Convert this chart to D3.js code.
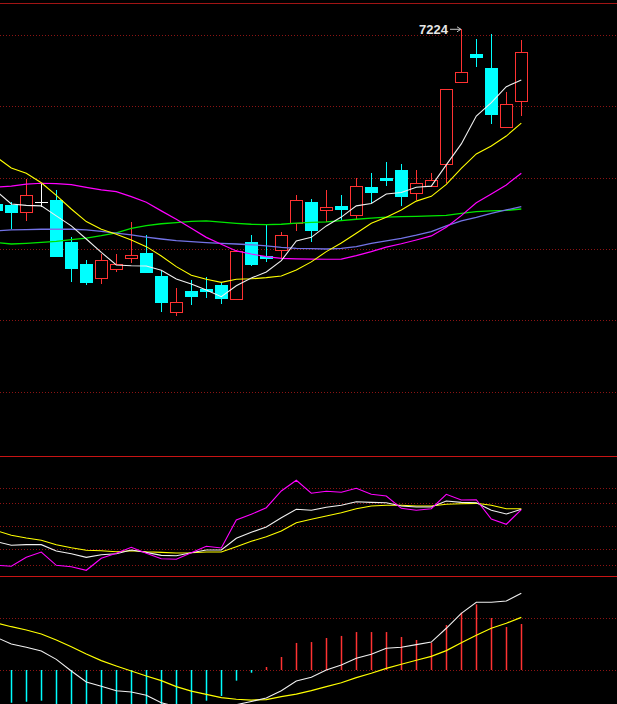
<!DOCTYPE html>
<html><head><meta charset="utf-8">
<script src="https://cdn.jsdelivr.net/npm/d3@7"></script>
<style>html,body{margin:0;padding:0;background:#000;overflow:hidden}svg{display:block}</style>
</head><body><svg id="c" width="617" height="704"></svg>
<script>
// ---- data (index -1 .. 34, first bar is partly off-screen) ----
const opens  = [6491,6487,6456,6498,6508,6331,6239,6179,6217,6266,6284,6189,6036,6126,6134,6151,6094,6331,6271,6297,6411,6499,6464,6482,6443,6562,6600,6634,6536,6568,6657,7002,7120,7060,6813,6922];
const closes = [6466,6459,6527,6498,6274,6224,6165,6255,6238,6276,6207,6081,6078,6106,6126,6098,6294,6240,6266,6360,6506,6383,6477,6471,6566,6541,6592,6526,6578,6590,6972,7044,7106,6870,6909,7128];
const highs  = [6499,6499,6596,6580,6550,6352,6256,6282,6281,6415,6360,6210,6138,6172,6185,6161,6298,6361,6406,6373,6529,6511,6550,6529,6599,6620,6666,6657,6634,6620,6974,7224,7183,7203,6961,7179];
const lows   = [6457,6386,6421,6480,6267,6165,6152,6156,6207,6245,6205,6039,6022,6068,6098,6073,6089,6232,6248,6262,6379,6333,6414,6420,6424,6496,6568,6484,6508,6564,6578,7000,7067,6825,6813,6859];
const ma5  = [6545,6491,6485,6483,6441,6399,6344,6288,6235,6232,6231,6213,6176,6155,6130,6102,6148,6180,6206,6253,6336,6351,6399,6436,6483,6493,6533,6539,6561,6566,6655,6743,6860,6916,6983,7011];
const ma10 = [6688,6642,6620,6580,6527,6470,6417,6385,6364,6340,6312,6273,6228,6192,6175,6162,6175,6177,6182,6189,6214,6248,6291,6327,6368,6410,6435,6466,6503,6523,6573,6640,6701,6734,6776,6830];
const ma20 = [6562,6566,6574,6578,6576,6572,6561,6550,6543,6522,6498,6462,6427,6389,6351,6322,6294,6281,6270,6263,6261,6260,6259,6260,6274,6291,6310,6324,6340,6357,6393,6442,6496,6533,6571,6620];
const ma30 = [6378,6382,6383,6385,6385,6385,6382,6376,6369,6361,6352,6344,6337,6333,6329,6326,6323,6320,6315,6309,6305,6304,6302,6305,6312,6326,6336,6347,6360,6375,6399,6420,6435,6452,6466,6480];
const ma60 = [6329,6323,6326,6330,6334,6341,6348,6358,6370,6389,6400,6408,6413,6418,6420,6415,6410,6406,6404,6406,6411,6414,6416,6421,6427,6432,6436,6438,6439,6441,6443,6452,6459,6462,6464,6470];
const kVals = [31,26.1,26.9,26.9,18.6,15.1,10.4,13.8,15.1,19.9,16.9,13.0,12.5,16.4,19.9,19.9,35.2,43.0,49.9,62.1,73.0,71.7,75.6,78.2,82.9,82.1,81.6,77.3,76.0,76.0,83.8,82.1,81.6,71.7,66.9,73.0];
const dVals = [45.3,39.1,35.6,32.6,26.9,22.9,19.6,19.0,17.7,19.0,17.7,16.9,16.0,16.4,17.3,17.3,24.2,31.3,37.3,44.7,55.5,60.0,64.3,68.6,73.8,77.3,78.2,78.2,77.3,77.3,79.5,80.3,80.8,78.2,73.8,73.8];
const jVals = [0,-1.3,10.4,17.3,0,-1.8,-6.5,9.1,15.6,23.5,15.6,8.6,7.8,16.4,24.8,22.6,59.1,66.5,75.1,96.9,110.8,93.9,96.5,95.2,100.4,92.6,90.4,74.3,71.7,73.8,92.6,85.1,85.5,60.4,53.5,72.5];
const difVals = [25.1,20.0,17.5,14.6,8.2,-0.8,-9.2,-12.5,-16.0,-16.9,-19.4,-25.2,-28.1,-30.0,-30.5,-31.3,-26.7,-24.2,-21.5,-15.9,-8.5,-5.6,0,3.8,9.0,12.1,16.7,17.5,19.5,21.5,32.1,43.6,52.1,52.1,53.1,59.0];
const deaVals = [36.2,33.3,30.8,27.7,23.1,17.9,12.3,7.2,3.1,-0.8,-4.6,-8.2,-12.8,-16.2,-18.7,-21.3,-22.5,-23.1,-22.8,-20.5,-18.5,-15.9,-12.8,-9.8,-5.9,-2.5,1.3,4.4,7.5,10.5,14.9,21.0,26.7,32.1,36.0,40.5];
const macdVals = [-22,-25.2,-24.4,-23.6,-29.7,-37.4,-42.6,-38.9,-38.0,-32.3,-29.7,-33.8,-30.5,-27.7,-23.6,-20.0,-8.2,-2.1,2.3,10.0,20.8,21.5,24.6,26.2,29.2,29.2,29.2,25.4,23.1,21.0,34.6,44.1,50.5,40.0,33.1,35.4];
const priceTicks = [7200,6900,6600,6300,6000,5700];
const kdjTicks = [0,20,50,80,100];
const macdTicks = [0,40];

// ---- setup ----
const W = 617, H = 704;
const UP = '#ff3232', DOWN = '#00ffff';
const svg = d3.select('#c');
svg.append('rect').attr('width', W).attr('height', H).attr('fill', '#000');
const idx = d3.range(opens.length);
const x = d3.scaleLinear().domain([0, opens.length - 1]).range([-3.7, 521.3]);
const yP = d3.scaleLinear().domain([5600, 7300]).range([416.33, 11.17]);
const yK = d3.scaleLinear().domain([0, 100]).range([565.3, 488.6]);
const yM = d3.scaleLinear().domain([0, 40]).range([670, 618]);
const px = v => Math.floor(v) + 0.5;

// grid lines
function grid(ticks, scale) {
  svg.append('g').attr('shape-rendering', 'crispEdges').selectAll('line').data(ticks).join('line')
    .attr('x1', 0).attr('x2', W)
    .attr('y1', d => px(scale(d))).attr('y2', d => px(scale(d)))
    .attr('stroke', '#8c1414').attr('stroke-width', 1).attr('stroke-dasharray', '1,2');
}
grid(priceTicks, yP);
grid(kdjTicks, yK);
grid(macdTicks, yM);

// panel separators
[[3.5, '#a01414'], [456.5, '#c81414'], [576.5, '#c81414']].forEach(([yy, c]) => {
  svg.append('line').attr('x1', 0).attr('x2', W).attr('y1', yy).attr('y2', yy)
    .attr('stroke', c).attr('stroke-width', 1);
});

// ---- candles ----
const cg = svg.append('g').attr('shape-rendering', 'crispEdges');
idx.forEach(i => {
  const cx = x(i), o = opens[i], c = closes[i];
  const wx = Math.round(cx) + 0.5;
  const yH = Math.round(yP(highs[i])), yL = Math.round(yP(lows[i]));
  const yO = Math.round(yP(o)), yC = Math.round(yP(c));
  if (o === c) {
    cg.append('line').attr('x1', wx).attr('x2', wx).attr('y1', yH).attr('y2', yL).attr('stroke', '#fff');
    cg.append('line').attr('x1', Math.round(cx - 6)).attr('x2', Math.round(cx - 6) + 13)
      .attr('y1', yC + 0.5).attr('y2', yC + 0.5).attr('stroke', '#fff');
  } else if (c > o) {
    const top = yC, bot = yO;
    cg.append('line').attr('x1', wx).attr('x2', wx).attr('y1', yH).attr('y2', top).attr('stroke', UP);
    cg.append('line').attr('x1', wx).attr('x2', wx).attr('y1', bot).attr('y2', yL).attr('stroke', UP);
    cg.append('rect').attr('x', Math.round(cx - 6) + 0.5).attr('y', top + 0.5)
      .attr('width', 12).attr('height', Math.max(1, bot - top))
      .attr('fill', '#000').attr('stroke', UP);
  } else {
    cg.append('line').attr('x1', wx).attr('x2', wx).attr('y1', yH).attr('y2', yL).attr('stroke', DOWN);
    cg.append('rect').attr('x', Math.round(cx - 6)).attr('y', yO)
      .attr('width', 13).attr('height', Math.max(2, yC - yO + 1)).attr('fill', DOWN);
  }
});

// ---- moving averages ----
function drawLine(vals, scale, color, w) {
  const line = d3.line().x((d, i) => x(i)).y(d => scale(d));
  svg.append('path').datum(vals).attr('d', line)
    .attr('fill', 'none').attr('stroke', color).attr('stroke-width', w || 1);
}
drawLine(ma60, yP, '#00e600', 1.3);
drawLine(ma30, yP, '#7373e6', 1.3);
drawLine(ma20, yP, '#ff00ff', 1.2);
drawLine(ma10, yP, '#ffff00', 1.1);
drawLine(ma5, yP, '#f0f0f0', 1.1);

// max label
const iMax = d3.maxIndex(highs);
const mx = Math.round(x(iMax)), my = yP(highs[iMax]);
svg.append('line').attr('x1', mx - 11).attr('x2', mx - 1).attr('y1', my).attr('y2', my)
  .attr('stroke', '#c8c8c8').attr('stroke-width', 1);
svg.append('path').attr('d', `M${mx - 4},${my - 2.5} L${mx},${my} L${mx - 4},${my + 2.5}`)
  .attr('fill', 'none').attr('stroke', '#c8c8c8').attr('stroke-width', 1);
svg.append('text').attr('x', mx - 13).attr('y', my + 5)
  .attr('text-anchor', 'end').attr('font-family', 'Liberation Sans, Arial, sans-serif')
  .attr('font-size', 13).attr('font-weight', 'bold').attr('fill', '#e6e6e6')
  .text(String(highs[iMax]));

// ---- KDJ ----
drawLine(dVals, yK, '#ffff00', 1.1);
drawLine(kVals, yK, '#f0f0f0', 1.1);
drawLine(jVals, yK, '#ff00ff', 1.1);

// ---- MACD ----
const mg = svg.append('g');
mg.selectAll('line').data(macdVals).join('line')
  .attr('x1', (d, i) => Math.round(x(i)) + 0.5).attr('x2', (d, i) => Math.round(x(i)) + 0.5)
  .attr('y1', yM(0)).attr('y2', d => yM(d))
  .attr('stroke', d => d >= 0 ? UP : DOWN).attr('stroke-width', 1.5);
drawLine(deaVals, yM, '#ffff00', 1.2);
drawLine(difVals, yM, '#f0f0f0', 1.1);
</script>
</body></html>
